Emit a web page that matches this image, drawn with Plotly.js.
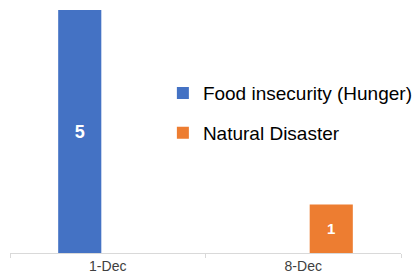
<!DOCTYPE html>
<html>
<head>
<meta charset="utf-8">
<script src="https://cdn.plot.ly/plotly-3.0.1.min.js"></script>
<style>html,body{margin:0;padding:0;background:#fff;}#chart{width:415px;height:276px;}</style>
</head>
<body>
<div id="chart"></div>
<script>
var categories = ["1-Dec", "8-Dec"];
var foodInsecurity = [5, null];
var naturalDisaster = [null, 1];
var seriesNames = ["Food insecurity (Hunger)", "Natural Disaster"];

var traces = [
  {
    type: "bar", name: seriesNames[0], x: categories, y: foodInsecurity,
    marker: {color: "#4472C4"},
    text: foodInsecurity.map(function(v){return v === null ? "" : String(v);}),
    textposition: "inside", insidetextanchor: "middle", textangle: 0,
    textfont: {color: "#ffffff", size: 18, family: "Liberation Sans, Arial, sans-serif", weight: "bold"},
    legendgroup: "a", hoverinfo: "none"
  },
  {
    type: "bar", name: seriesNames[1], x: categories, y: naturalDisaster,
    marker: {color: "#ED7D31"},
    text: naturalDisaster.map(function(v){return v === null ? "" : String(v);}),
    textposition: "inside", insidetextanchor: "middle", textangle: 0,
    textfont: {color: "#ffffff", size: 15, family: "Liberation Sans, Arial, sans-serif", weight: "bold"},
    legendgroup: "b", hoverinfo: "none"
  }
];

var layout = {
  width: 415, height: 276,
  margin: {l: 10, r: 14, t: 10, b: 23, pad: 0, autoexpand: false},
  paper_bgcolor: "#ffffff", plot_bgcolor: "#ffffff",
  barmode: "group", bargap: 0.427, bargroupgap: 0.23,
  showlegend: true,
  legend: {
    x: 0.391, y: 0.736, xanchor: "left", yanchor: "top",
    font: {family: "Liberation Sans, Arial, sans-serif", size: 19, color: "#000000"},
    tracegroupgap: 12, bgcolor: "rgba(0,0,0,0)", itemwidth: 30
  },
  xaxis: {
    type: "category", range: [-0.5, 1.5], autorange: false,
    showgrid: false, zeroline: false,
    showline: true, linecolor: "#d9d9d9", linewidth: 1,
    ticks: "outside", tickson: "boundaries", ticklen: 4, tickcolor: "#d9d9d9",
    tickfont: {family: "Liberation Sans, Arial, sans-serif", size: 14, color: "#404040"},
    fixedrange: true
  },
  yaxis: {
    range: [0, 5], visible: false, showgrid: false, zeroline: false, fixedrange: true
  }
};

Plotly.newPlot("chart", traces, layout, {displayModeBar: false, staticPlot: true});
</script>
</body>
</html>
